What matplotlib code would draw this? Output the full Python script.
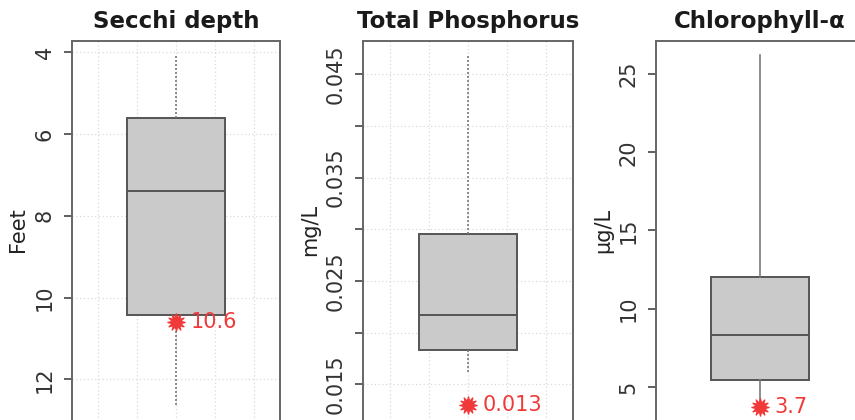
import matplotlib
matplotlib.use("Agg")
import matplotlib.pyplot as plt
from matplotlib.ticker import FixedLocator, FuncFormatter

# Summary statistics for each water-quality parameter
titles = ["Secchi depth", "Total Phosphorus", "Chlorophyll-\u03b1"]
units = ["Feet", "mg/L", "\u00b5g/L"]

secchi_stats = {"whislo": 4.07, "q1": 5.6, "med": 7.4, "q3": 10.42, "whishi": 12.66}
tp_stats = {"whislo": 0.0160, "q1": 0.01835, "med": 0.02175, "q3": 0.0295, "whishi": 0.0468}
chla_stats = {"whislo": 3.7, "q1": 5.45, "med": 8.3, "q3": 12.0, "whishi": 26.2}

current_values = [10.6, 0.013, 3.7]
current_labels = ["10.6", "0.013", "3.7"]

y_ticks = [
    [4, 6, 8, 10, 12],
    [0.015, 0.020, 0.025, 0.030, 0.035, 0.040, 0.045],
    [5, 10, 15, 20, 25],
]
y_tick_labels = [
    ["4", "6", "8", "10", "12"],
    ["0.015", "", "0.025", "", "0.035", "", "0.045"],
    ["5", "10", "15", "20", "25"],
]
y_limits = [(13.235, 3.724), (0.01058, 0.04822), (2.25, 27.11)]
x_grid = [0.6, 0.8, 1.0, 1.2, 1.4]

W, H = 855, 420
fig = plt.figure(figsize=(W / 100, H / 100), dpi=100)

# panel extents in pixels (left, right); plot regions run past the lower edge
panel_px = [(72, 280), (363, 573), (656, 864)]
label_center_px = [20, 312, 605]
top_px, bottom_px = 41, 430
show_grid = [True, True, False]
whisker_styles = [(0, (1.2, 1.2)), (0, (1.2, 1.2)), "-"]

box_fill = "#CACACA"
edge = "#555555"
red = "#F03A3A"

for i, stats in enumerate([secchi_stats, tp_stats, chla_stats]):
    l, r = panel_px[i]
    ax = fig.add_axes([l / W, 1 - bottom_px / H, (r - l) / W, (bottom_px - top_px) / H])
    ax.set_xlim(0.464, 1.536)
    ax.set_ylim(*y_limits[i])

    if show_grid[i]:
        for gx in x_grid:
            ax.axvline(gx, color="#DADADA", lw=0.9, ls=(0, (1, 2)), zorder=0)
        for gy in y_ticks[i]:
            ax.axhline(gy, color="#DADADA", lw=0.9, ls=(0, (1, 2)), zorder=0)

    st = dict(stats)
    st["fliers"] = []
    ax.bxp([st], positions=[1], widths=0.5, patch_artist=True, showcaps=False,
           showfliers=False,
           boxprops=dict(facecolor=box_fill, edgecolor=edge, linewidth=1.4),
           medianprops=dict(color=edge, linewidth=1.4),
           whiskerprops=dict(color="#7A7A7A", linewidth=1.2, linestyle=whisker_styles[i]),
           zorder=2)

    # current value marker and label
    v = current_values[i]
    ax.plot([1], [v], marker=(12, 1, 0), ms=13, color=red, mec=red, mew=0.8,
            zorder=5, clip_on=False)
    ax.plot([1], [v], marker="o", ms=7, color=red, zorder=6, clip_on=False)
    ax.annotate(current_labels[i], xy=(1, v), xytext=(10.5, 0), textcoords="offset points",
                ha="left", va="center", color=red, fontsize=15, zorder=6)

    ax.yaxis.set_major_locator(FixedLocator(y_ticks[i]))
    labels = y_tick_labels[i]
    ax.yaxis.set_major_formatter(FuncFormatter(lambda val, pos, labels=labels: labels[pos]))
    ax.tick_params(axis="y", length=5.5, width=1.2, color="#444444", pad=7,
                   labelsize=15, labelcolor="#333333", labelrotation=90)
    for t in ax.get_yticklabels():
        t.set_va("center")
    ax.set_xticks([])

    for s in ax.spines.values():
        s.set_color("#666666")
        s.set_linewidth(1.4)

    ax.set_ylabel(units[i], fontsize=15, color="#222222")
    # label anchor sits on the right side of the rotated text
    ax.yaxis.set_label_coords((label_center_px[i] + 8 - l) / (r - l), 0.514)
    ax.set_title(titles[i], fontsize=16.5, fontweight="bold", color="#1A1A1A", pad=9)

fig.savefig("out.png", dpi=100)
